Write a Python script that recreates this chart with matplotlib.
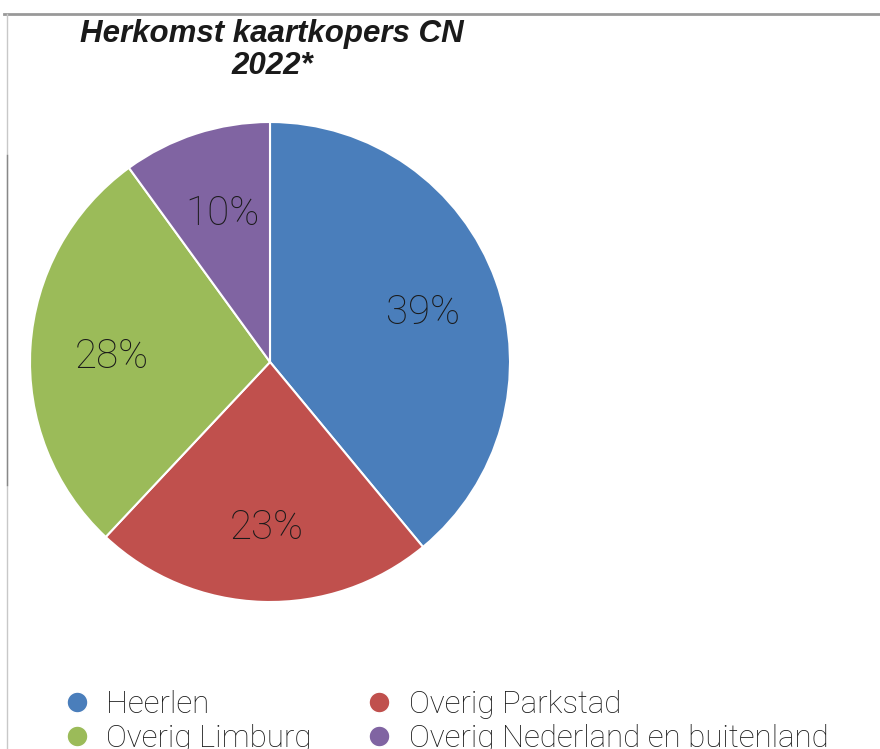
import matplotlib
matplotlib.use("Agg")
import matplotlib.pyplot as plt
from matplotlib.lines import Line2D
from matplotlib.transforms import ScaledTranslation

# Data
categories = ["Heerlen", "Overig Parkstad", "Overig Limburg", "Overig Nederland en buitenland"]
shares = [39, 23, 28, 10]
colors = ["#4A7EBB", "#C0504D", "#9BBB59", "#8064A2"]
title = "Herkomst kaartkopers CN\n2022*"

W, H = 880, 749
fig = plt.figure(figsize=(W / 100, H / 100), dpi=100)

light_family = "Roboto"

# pie axes: centre (270, 362), radius 240 px
cx, cy, r = 270, 362, 240
ax = fig.add_axes([(cx - r) / W, (H - cy - r) / H, 2 * r / W, 2 * r / H])
wedges, texts, autotexts = ax.pie(
    shares, colors=colors, startangle=90, counterclock=False, radius=1,
    autopct=lambda p: f"{p:.0f}%", pctdistance=0.67,
    wedgeprops=dict(edgecolor="white", linewidth=1.5),
    textprops=dict(fontsize=29, color="#1a1a1a", family=light_family, fontweight="light"),
)
# nudge the percentage labels down a little
for t in autotexts:
    t.set_transform(t.get_transform() + ScaledTranslation(0.02, -0.05, fig.dpi_scale_trans))
ax.set_xlim(-1, 1)
ax.set_ylim(-1, 1)
ax.set_aspect("equal")
ax.axis("off")

fig.text(272 / W, 1 - 50 / H, title, ha="center", va="center", fontsize=22.5,
         fontweight="bold", fontstyle="italic", family="Liberation Sans",
         color="#1a1a1a", linespacing=1.05)

# legend
handles = [Line2D([], [], marker="o", linestyle="none", markersize=15,
                  markerfacecolor=c, markeredgecolor="white") for c in colors]
order = [0, 2, 1, 3]
fig.legend([handles[i] for i in order], [categories[i] for i in order],
           ncol=2, loc="upper left", bbox_to_anchor=(61 / W, 1 - 690 / H),
           frameon=False, handletextpad=0.45, columnspacing=1.65, labelspacing=0.15,
           handlelength=1.0, borderaxespad=0, borderpad=0,
           prop=dict(family=light_family, weight="light", size=22.5))
for t in fig.legends[0].get_texts():
    t.set_color("#1a1a1a")

# frame lines
fig.add_artist(Line2D([4 / W, 1], [1 - 14 / H] * 2, transform=fig.transFigure,
                      color="#999999", linewidth=2))
fig.add_artist(Line2D([7 / W] * 2, [0, 1 - 14 / H], transform=fig.transFigure,
                      color="#c8c8c8", linewidth=1))
fig.add_artist(Line2D([7 / W] * 2, [1 - 485 / H, 1 - 155 / H], transform=fig.transFigure,
                      color="#888888", linewidth=1))

fig.savefig("out.png", dpi=100)
